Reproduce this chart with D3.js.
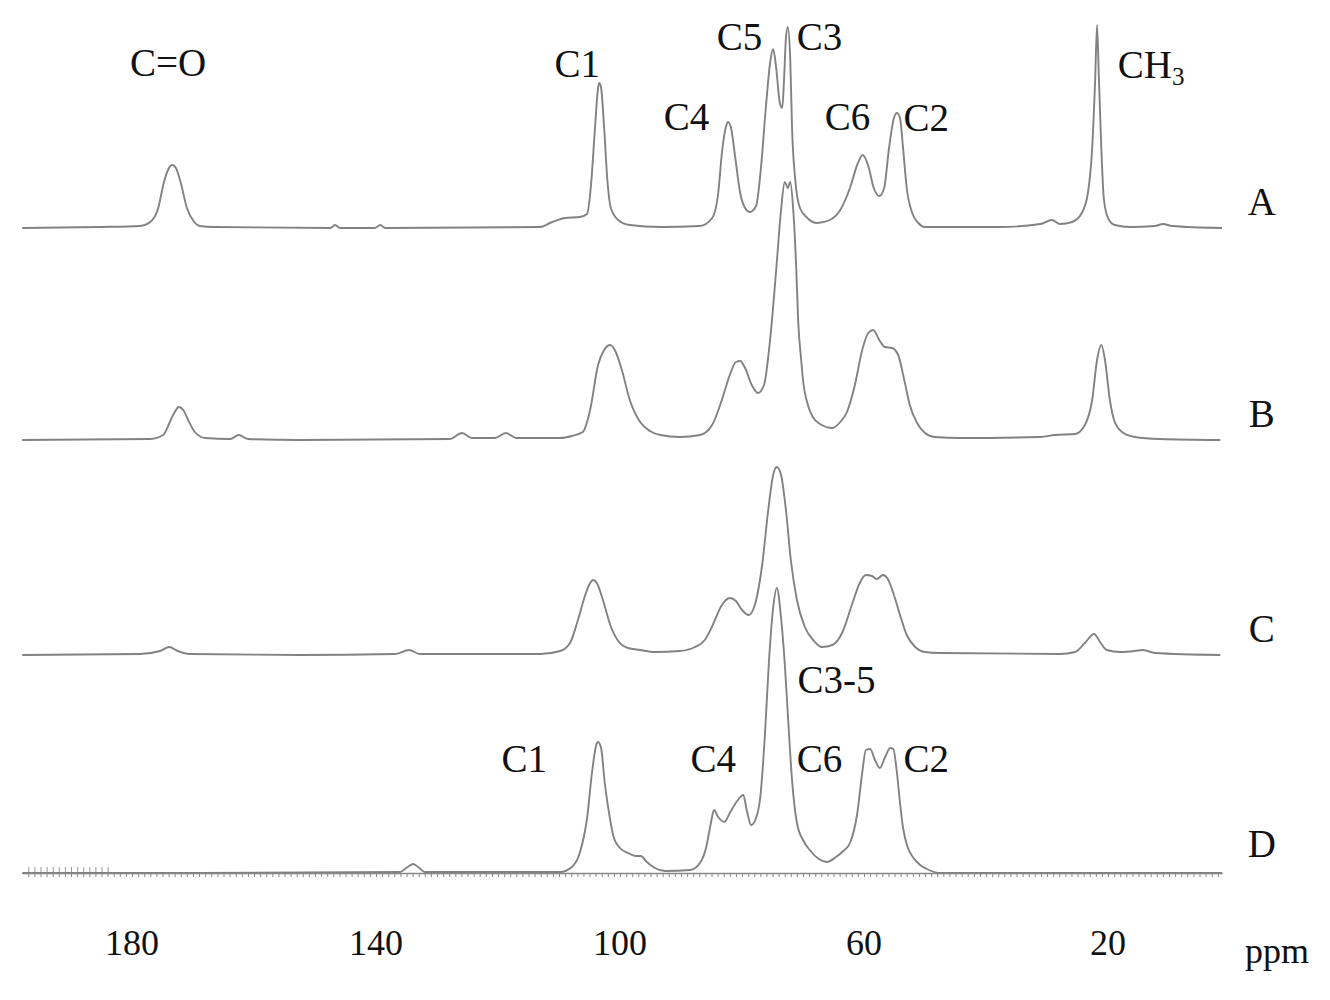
<!DOCTYPE html>
<html>
<head>
<meta charset="utf-8">
<script src="https://cdn.jsdelivr.net/npm/d3@7"></script>
<style>
  html, body { margin: 0; padding: 0; background: #fff; }
  svg { display: block; }
</style>
</head>
<body>
<svg id="chart" width="1330" height="1000"></svg>
<script>
// ---------- data (ppm, intensity) ----------
const traceNames = ["A", "B", "C", "D"];

const specA = [
  [198.0,0],[185.2,1],[178.7,2],[177.0,6],[175.7,20],[174.8,45],[174.1,58],[173.4,63],[172.8,60],[172.0,45],
  [171.0,20],[169.8,6],[168.9,2],[166.4,1],[147.5,0],[146.7,3],[145.9,0],[140.2,0],[139.3,3],[138.5,0],
  [113.1,1],[111.1,6],[109.0,10],[106.6,11],[105.4,14],[104.8,40],[104.1,100],[103.6,140],[103.4,145],
  [103.1,140],[102.6,100],[102.1,50],[101.5,20],[100.3,8],[98.4,3],[93.4,1],[86.9,2],[84.9,10],[83.9,35],
  [83.3,75],[82.6,102],[82.3,106],[81.8,100],[81.1,70],[80.3,35],[79.5,20],[78.7,16],[77.7,22],[76.9,60],
  [76.1,120],[75.4,165],[74.9,179],[74.4,160],[73.8,125],[73.4,120],[73.1,150],[72.8,190],[72.5,201],
  [72.1,170],[71.8,100],[71.3,50],[70.5,20],[69.3,10],[67.7,5],[65.6,8],[63.9,18],[62.3,40],[61.0,65],
  [60.2,73],[59.3,62],[58.4,40],[57.5,32],[56.7,40],[55.9,80],[55.1,110],[54.6,115],[54.1,110],[53.6,80],
  [53.0,40],[52.1,15],[51.1,5],[50.0,1],[37.7,1],[31.1,4],[29.2,8],[27.9,4],[25.9,6],[24.3,15],[23.3,35],
  [22.6,80],[22.1,150],[21.8,203],[21.5,150],[21.1,80],[20.7,30],[20.0,10],[18.9,3],[16.4,1],[12.3,2],
  [11.0,4],[9.5,2],[1.3,0]
];

const specB = [
  [198.0,0],[177.0,1],[174.9,5],[173.8,18],[173.0,28],[172.3,33],[171.6,30],[170.8,20],[169.7,8],[168.0,2],
  [163.9,1],[162.5,5],[161.0,1],[152.5,0],[127.9,1],[125.9,7],[124.3,2],[120.5,2],[118.7,7],[117.0,2],
  [109.8,2],[107.9,4],[106.1,8],[104.9,30],[103.6,75],[102.6,90],[101.6,95],[100.7,88],[99.7,70],[98.4,40],
  [96.7,18],[95.1,9],[93.4,5],[90.2,3],[86.9,5],[84.9,15],[83.3,40],
  [82.0,65],[81.0,78],[80.3,79],[79.5,72],[78.4,55],[77.4,47],[76.4,55],[75.4,100],[74.4,170],[73.6,230],
  [73.0,258],[72.5,252],[72.1,258],[71.6,230],[71.1,170],[70.8,120],[70.3,80],[70.0,60],[69.2,35],[68.4,23],
  [67.2,16],[65.2,12],
  [63.9,18],[62.8,28],[61.5,55],[60.3,90],[59.3,107],[58.5,110],[57.5,100],[56.6,93],[55.4,92],[54.4,85],
  [53.4,60],[52.5,35],[51.3,17],[50.0,7],[48.4,3],[44.3,2],[31.1,3],[28.7,5],[25.4,6],[23.8,15],[22.6,40],
  [21.8,80],[21.1,95],[20.5,80],[19.7,40],[18.9,18],[17.7,8],[15.6,3],[11.5,1],[1.6,0]
];

const specC = [
  [198.0,0],[178.7,1],[175.4,4],[173.9,8],[172.5,4],[170.5,1],[152.5,0],[136.9,1],[134.6,5],[132.8,1],
  [113.1,1],[109.8,4],[108.2,12],[106.9,35],[105.7,60],[104.9,72],[104.4,75],[103.8,72],[102.8,55],
  [101.6,30],[100.3,14],[98.7,7],[96.7,5],[94.3,3],[90.2,4],[87.7,8],[86.1,15],[84.8,30],[83.3,50],
  [82.0,57],[81.0,54],[80.0,45],[78.9,40],[77.9,50],[76.7,90],[75.7,145],[74.9,180],[74.3,188],[73.6,180],
  [72.8,145],[72.0,95],[71.0,55],[69.7,28],[68.2,14],[66.9,8],[65.2,10],[63.6,22],[62.0,50],[60.7,72],
  [59.7,80],[58.7,79],[57.9,76],[56.9,80],[56.1,76],[55.1,60],[54.1,40],[53.0,20],[51.6,8],[50.0,3],
  [47.5,2],[27.9,1],[25.4,3],[23.8,12],[22.3,21],[21.3,13],[20.2,5],[18.0,3],[15.6,4],[14.3,5],[12.3,2],
  [1.6,0]
];

const specD = [
  [198.0,0],[168.9,0],[136.1,1],[134.8,6],[133.9,9],[133.1,6],[132.0,1],[109.8,1],[107.9,6],[106.6,20],
  [105.4,55],[104.6,100],[103.9,128],[103.6,131],[103.1,125],[102.5,90],[101.8,60],[101.0,35],[100.0,25],
  [98.7,20],[97.4,17],[96.6,17],[95.6,11],[94.3,5],[92.6,2],[88.5,3],[86.9,10],[85.9,25],[85.1,50],
  [84.6,63],[83.9,56],[82.9,51],[82.0,60],[80.8,72],[79.8,78],[79.2,62],[78.5,48],[77.7,55],[77.0,76],
  [76.2,143],[75.6,210],[74.9,265],[74.3,285],[73.6,255],[73.0,210],[72.5,160],[71.8,93],[71.0,50],
  [70.0,33],[68.9,23],[67.4,14],[66.1,11],[64.6,16],[63.4,22],[62.3,30],[61.1,60],[60.3,100],[59.7,123],
  [59.0,124],[58.2,113],[57.4,105],[56.6,115],[55.7,125],[55.2,124],[54.6,100],[54.1,70],[53.6,45],
  [52.8,25],[52.0,16],[50.8,8],[49.7,4],[47.5,0],[1.3,0]
];

const tickValues = [180, 140, 100, 60, 20];

// labels: text, trace, ppm of label centre, height (intensity units) of text baseline above trace baseline
const peakLabelText  = ["C=O", "C1", "C4", "C5", "C3", "C6", "C2", "C3-5", "C1", "C4", "C6", "C2"];
const peakLabelTrace = ["A",   "A",  "A",  "A",  "A",  "A",  "A",  "D",    "D",  "D",  "D",  "D"];
const peakLabelPpm   = [174.1, 107.0, 89.1, 80.4, 67.3, 62.7, 49.8, 64.5, 115.7, 84.7, 67.3, 49.8];
const peakLabelH     = [152,   151,   98,   178,  178,  98,   97,   180,  101,   101,  101,  101];

// ---------- layout ----------
const spectra = { A: specA, B: specB, C: specC, D: specD };
const baselines = { A: 228, B: 440, C: 655, D: 873 };
const nameH = { A: 13, B: 13, C: 13, D: 16 };

const x = d3.scaleLinear().domain([198, 1.3]).range([22.2, 1222.1]);
const h = d3.scaleLinear().domain([0, 300]).range([0, 300]);

const svg = d3.select("#chart");
const font = "'Liberation Serif', 'Times New Roman', serif";

const line = d3.line()
  .x(d => x(d[0]))
  .y(d => -h(d[1]))
  .curve(d3.curveMonotoneX);

// D baseline axis with small ticks
const gAxisD = svg.append("g").attr("transform", `translate(0,${baselines.D})`)
  .call(d3.axisBottom(x).tickValues(d3.range(2, 198, 1)).tickSize(4).tickFormat("").tickSizeOuter(0));
gAxisD.selectAll("line").attr("stroke", "#888").attr("stroke-width", 1);
gAxisD.select(".domain").attr("stroke", "#888").attr("stroke-width", 1.5);
const gAxisD2 = svg.append("g").attr("transform", `translate(0,${baselines.D})`)
  .call(d3.axisTop(x).tickValues(d3.range(184, 198, 1)).tickSize(6).tickFormat("").tickSizeOuter(0));
gAxisD2.selectAll("line").attr("stroke", "#999").attr("stroke-width", 1);
gAxisD2.select(".domain").attr("stroke", "none");

traceNames.forEach(name => {
  const g = svg.append("g").attr("transform", `translate(0,${baselines[name]})`);
  g.append("path")
    .datum(spectra[name])
    .attr("d", line)
    .attr("fill", "none")
    .attr("stroke", "#828282")
    .attr("stroke-width", 1.9)
    .attr("stroke-linejoin", "round");
  g.append("text")
    .attr("x", x(-5.2))
    .attr("y", -h(nameH[name]))
    .attr("text-anchor", "middle")
    .attr("font-family", font)
    .attr("font-size", 39)
    .attr("fill", "#111")
    .text(name);
});

// peak labels
peakLabelText.forEach((t, i) => {
  svg.append("text")
    .attr("x", x(peakLabelPpm[i]))
    .attr("y", baselines[peakLabelTrace[i]] - h(peakLabelH[i]))
    .attr("text-anchor", "middle")
    .attr("font-family", font)
    .attr("font-size", 39)
    .attr("fill", "#111")
    .text(t);
});

// CH3 label with subscript
const ch3 = svg.append("text")
  .attr("x", x(18.4))
  .attr("y", baselines.A - h(150))
  .attr("font-family", font)
  .attr("font-size", 39)
  .attr("fill", "#111");
ch3.append("tspan").text("CH");
ch3.append("tspan").attr("font-size", 25).attr("dy", 7).text("3");

// x tick labels
svg.append("g").selectAll("text")
  .data(tickValues)
  .join("text")
  .attr("x", d => x(d))
  .attr("y", 955)
  .attr("text-anchor", "middle")
  .attr("font-family", font)
  .attr("font-size", 36)
  .attr("fill", "#111")
  .text(d => d);

svg.append("text")
  .attr("x", 1277)
  .attr("y", 963)
  .attr("text-anchor", "middle")
  .attr("font-family", font)
  .attr("font-size", 36)
  .attr("fill", "#111")
  .text("ppm");
</script>
</body>
</html>
